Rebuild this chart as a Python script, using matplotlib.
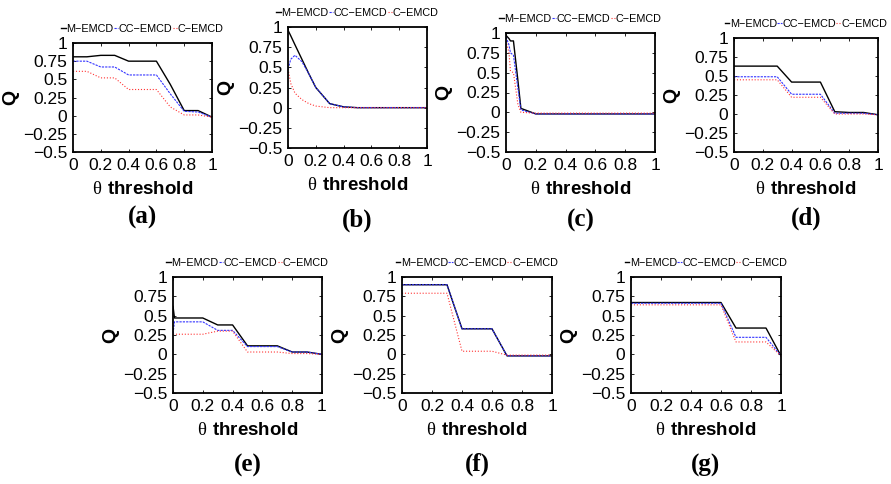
import matplotlib
matplotlib.use("Agg")
import matplotlib.pyplot as plt

plt.rcParams['font.family'] = ['Liberation Sans', 'DejaVu Sans']
plt.rcParams['mathtext.fontset'] = 'custom'
plt.rcParams['mathtext.rm'] = 'Liberation Serif'
plt.rcParams['mathtext.bf'] = 'Liberation Sans:bold'

W, H = 891, 484

series_names = ["M\u2212EMCD", "CC\u2212EMCD", "C\u2212EMCD"]
panel_labels = ["(a)", "(b)", "(c)", "(d)", "(e)", "(f)", "(g)"]
xticks = [0, 0.2, 0.4, 0.6, 0.8, 1]
yticks = [1, 0.75, 0.5, 0.25, 0, -0.25, -0.5]
ytick_labels = ["1", "0.75", "0.5", "0.25", "0", "\u22120.25", "\u22120.5"]

x10 = [0, 0.1, 0.2, 0.3, 0.4, 0.5, 0.6, 0.7, 0.8, 0.9, 1.0]

# (a)
a_x = x10
a_m = [0.81, 0.81, 0.83, 0.83, 0.75, 0.75, 0.75, 0.43, 0.07, 0.07, -0.02]
a_cc = [0.75, 0.75, 0.67, 0.67, 0.56, 0.56, 0.56, 0.30, 0.06, 0.05, -0.02]
a_c = [0.61, 0.61, 0.52, 0.52, 0.36, 0.36, 0.36, 0.12, 0.01, 0.01, -0.02]

# (b)
b_x = [0, 0.02, 0.05, 0.1, 0.15, 0.2, 0.3, 0.4, 0.5, 0.6, 0.7, 0.8, 0.9, 1.0]
b_m = [0.96, 0.89, 0.78, 0.60, 0.42, 0.25, 0.05, 0.01, 0, 0, 0, 0, 0, 0]
b_cc = [0.48, 0.60, 0.65, 0.57, 0.42, 0.25, 0.05, 0.01, 0, 0, 0, 0, 0, 0]
b_c = [0.48, 0.30, 0.18, 0.10, 0.05, 0.02, 0.0, 0, 0, 0, 0, 0, 0, 0]

# (c)
c_x = [0, 0.02, 0.03, 0.05, 0.08, 0.1, 0.2, 0.4, 0.6, 0.8, 1.0]
c_m = [0.97, 0.93, 0.90, 0.90, 0.40, 0.05, -0.02, -0.02, -0.02, -0.02, -0.02]
c_cc = [0.95, 0.85, 0.75, 0.72, 0.30, 0.03, -0.02, -0.02, -0.02, -0.02, -0.02]
c_c = [0.90, 0.75, 0.52, 0.50, 0.10, 0.0, -0.01, -0.01, -0.01, -0.01, -0.01]

# (d)
d_x = x10
d_m = [0.63, 0.63, 0.63, 0.63, 0.42, 0.42, 0.42, 0.03, 0.02, 0.02, -0.01]
d_cc = [0.49, 0.49, 0.49, 0.49, 0.26, 0.26, 0.26, 0.01, 0.01, 0.01, -0.01]
d_c = [0.45, 0.45, 0.45, 0.45, 0.22, 0.22, 0.22, 0.0, 0.0, 0.0, -0.01]

# (e)
e_x = [0, 0.01, 0.1, 0.2, 0.3, 0.4, 0.5, 0.6, 0.7, 0.8, 0.9, 1.0]
e_m = [0.62, 0.47, 0.47, 0.47, 0.38, 0.38, 0.11, 0.11, 0.11, 0.03, 0.03, 0.0]
e_cc = [0.27, 0.42, 0.42, 0.42, 0.31, 0.31, 0.10, 0.10, 0.10, 0.03, 0.03, 0.0]
e_c = [0.26, 0.26, 0.26, 0.26, 0.30, 0.30, 0.03, 0.03, 0.03, 0.01, 0.01, 0.0]

# (f)
f_x = x10
f_m = [0.90, 0.90, 0.90, 0.90, 0.33, 0.33, 0.33, -0.02, -0.02, -0.02, -0.02]
f_cc = [0.90, 0.90, 0.90, 0.90, 0.33, 0.33, 0.33, -0.02, -0.02, -0.02, -0.02]
f_c = [0.79, 0.79, 0.79, 0.79, 0.04, 0.04, 0.04, -0.01, -0.01, -0.01, -0.01]

# (g)
g_x = x10
g_m = [0.67, 0.67, 0.67, 0.67, 0.67, 0.67, 0.67, 0.34, 0.34, 0.34, -0.02]
g_cc = [0.66, 0.66, 0.66, 0.66, 0.66, 0.66, 0.66, 0.22, 0.22, 0.22, -0.02]
g_c = [0.64, 0.64, 0.64, 0.64, 0.64, 0.64, 0.64, 0.16, 0.16, 0.16, -0.02]

panels = [
    (a_x, a_m, a_cc, a_c),
    (b_x, b_m, b_cc, b_c),
    (c_x, c_m, c_cc, c_c),
    (d_x, d_m, d_cc, d_c),
    (e_x, e_m, e_cc, e_c),
    (f_x, f_m, f_cc, f_c),
    (g_x, g_m, g_cc, g_c),
]

# axes boxes in pixels: left, right, top, bottom
boxes = [
    (73, 212, 43, 152),
    (288, 427, 27, 148),
    (506, 655, 33, 152),
    (734, 878, 38, 152),
    (173, 322, 277, 393),
    (402, 552, 277, 393),
    (631, 781, 277, 393),
]
label_y = [217, 220, 220, 218, 465, 464, 465]

fig = plt.figure(figsize=(W / 100, H / 100), dpi=100)

for i, (x, m, cc, c) in enumerate(panels):
    l, r, t, b = boxes[i]
    ax = fig.add_axes([l / W, 1 - b / H, (r - l) / W, (b - t) / H])
    ax.plot(x, m, color='black', lw=1.0, ls='-', label=series_names[0])
    ax.plot(x, cc, color='#3333ff', lw=0.8, ls='--', dashes=(2, 1), label=series_names[1])
    ax.plot(x, c, color='#ff3333', lw=0.8, ls=':', label=series_names[2])
    ax.set_xlim(0, 1)
    ax.set_ylim(-0.5, 1)
    ax.set_xticks(xticks)
    ax.set_xticklabels(["0", "0.2", "0.4", "0.6", "0.8", "1"])
    ax.set_yticks(yticks)
    ax.set_yticklabels(ytick_labels)
    ax.tick_params(direction='in', length=2.5, width=0.6, labelsize=12.5,
                   top=True, right=True, pad=4)
    for s in ax.spines.values():
        s.set_linewidth(1.3)
    ax.set_ylabel("Q", fontsize=14, fontweight='bold', labelpad=3)
    ax.set_xlabel(r"$\mathrm{\theta}\ \mathbf{threshold}$", fontsize=13.5, labelpad=6)
    leg_y = 1 + 9 / (b - t)
    ax.legend(loc='lower center', bbox_to_anchor=(0.5, leg_y), ncol=3, frameon=False,
              fontsize=7.8, handlelength=0.4, handletextpad=0.05, columnspacing=0.05,
              borderaxespad=0, borderpad=0)
    fig.text((l + r) / 2 / W, 1 - label_y[i] / H, panel_labels[i], ha='center', va='center',
             fontsize=18, fontweight='bold', family='Liberation Serif')

fig.savefig("out.png", dpi=100)
